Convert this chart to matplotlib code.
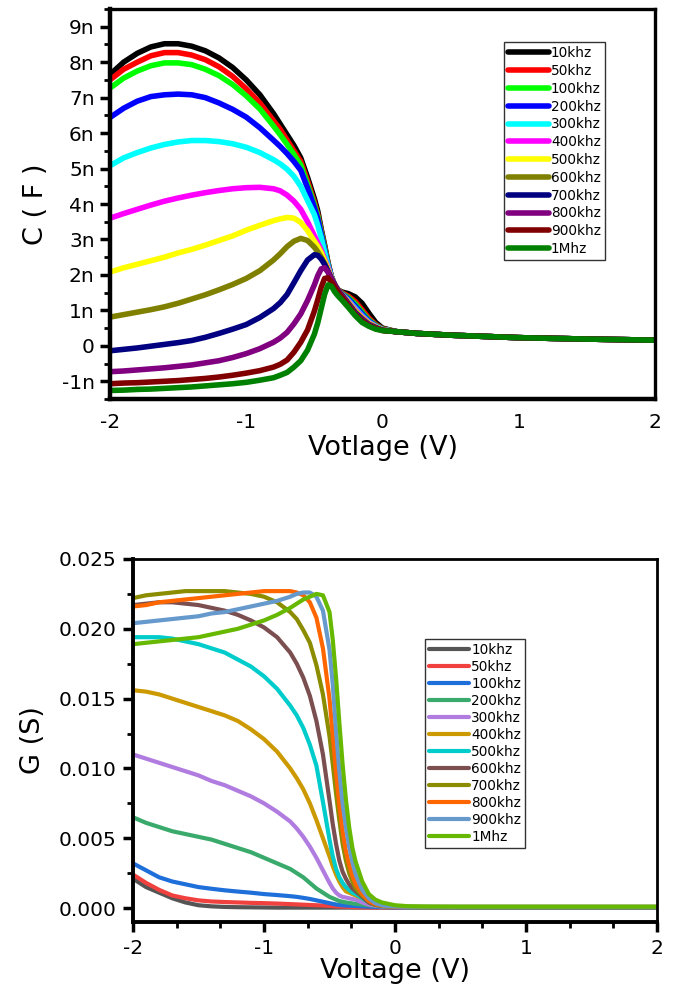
import numpy as np
import matplotlib
matplotlib.use("Agg")
import matplotlib.pyplot as plt
from matplotlib.ticker import FuncFormatter, FixedLocator

plt.rcParams['font.family'] = ['DejaVu Sans']
plt.rcParams['axes.unicode_minus'] = False

# ---------------- top chart: C-V (values in nF) ----------------
v_top = [-2.0, -1.9, -1.8, -1.7, -1.6, -1.5, -1.4, -1.3, -1.2, -1.1, -1.0,
         -0.9, -0.8, -0.75, -0.7, -0.65, -0.6, -0.55, -0.5,
         -0.475, -0.45, -0.425, -0.4, -0.375, -0.35, -0.325, -0.3,
         -0.25, -0.2, -0.15, -0.1, -0.05, 0.0,
         0.1, 0.25, 0.5, 1.0, 1.5, 2.0]
top_labels = ['10khz', '50khz', '100khz', '200khz', '300khz', '400khz', '500khz',
              '600khz', '700khz', '800khz', '900khz', '1Mhz']
top_colors = ['#000000', '#FF0000', '#00FF00', '#0000FF', '#00FFFF', '#FF00FF', '#FFFF00',
              '#808000', '#000080', '#800080', '#800000', '#008000']
c_tail = [0.40, 0.35, 0.30, 0.23, 0.19, 0.16]
c_10k  = [7.65, 8.00, 8.25, 8.43, 8.52, 8.52, 8.45, 8.32, 8.12, 7.85, 7.50,
          7.08, 6.55, 6.25, 5.95, 5.65, 5.30, 4.75, 4.15,
          3.80, 3.30, 2.85, 2.35, 1.95, 1.70, 1.58, 1.52,
          1.47, 1.38, 1.20, 0.92, 0.66, 0.50] + c_tail
c_50k  = [7.50, 7.80, 8.00, 8.18, 8.27, 8.27, 8.20, 8.07, 7.87, 7.60, 7.25,
          6.85, 6.35, 6.10, 5.80, 5.50, 5.20, 4.65, 4.05,
          3.70, 3.25, 2.80, 2.33, 1.95, 1.70, 1.57, 1.50,
          1.40, 1.25, 1.02, 0.78, 0.60, 0.48] + c_tail
c_100k = [7.27, 7.55, 7.75, 7.90, 7.98, 7.98, 7.93, 7.80, 7.62, 7.37, 7.05,
          6.68, 6.20, 5.95, 5.68, 5.40, 5.10, 4.55, 3.98,
          3.65, 3.20, 2.77, 2.30, 1.95, 1.70, 1.56, 1.48,
          1.36, 1.18, 0.95, 0.73, 0.58, 0.47] + c_tail
c_200k = [6.44, 6.70, 6.90, 7.03, 7.08, 7.10, 7.08, 7.00, 6.85, 6.67, 6.45,
          6.15, 5.80, 5.62, 5.42, 5.20, 4.95, 4.45, 3.90,
          3.58, 3.15, 2.72, 2.28, 1.95, 1.70, 1.55, 1.47,
          1.32, 1.12, 0.90, 0.70, 0.56, 0.46] + c_tail
c_300k = [5.08, 5.30, 5.45, 5.58, 5.68, 5.75, 5.79, 5.79, 5.76, 5.70, 5.60,
          5.45, 5.25, 5.13, 4.98, 4.78, 4.50, 4.10, 3.70,
          3.40, 3.05, 2.65, 2.25, 1.93, 1.72, 1.55, 1.46,
          1.28, 1.06, 0.85, 0.67, 0.55, 0.46] + c_tail
c_400k = [3.60, 3.73, 3.85, 3.97, 4.08, 4.17, 4.25, 4.32, 4.38, 4.43, 4.46,
          4.47, 4.43, 4.37, 4.25, 4.08, 3.85, 3.50, 3.10,
          2.90, 2.70, 2.45, 2.20, 1.92, 1.73, 1.55, 1.45,
          1.25, 1.02, 0.82, 0.65, 0.54, 0.45] + c_tail
c_500k = [2.08, 2.20, 2.30, 2.40, 2.50, 2.62, 2.72, 2.84, 2.97, 3.10, 3.26,
          3.40, 3.53, 3.58, 3.62, 3.60, 3.48, 3.25, 2.95,
          2.80, 2.62, 2.40, 2.15, 1.92, 1.73, 1.55, 1.45,
          1.22, 0.98, 0.79, 0.63, 0.53, 0.45] + c_tail
c_600k = [0.81, 0.88, 0.95, 1.02, 1.10, 1.20, 1.32, 1.44, 1.58, 1.73, 1.90,
          2.12, 2.42, 2.60, 2.80, 2.95, 3.03, 2.97, 2.78,
          2.65, 2.50, 2.32, 2.10, 1.90, 1.72, 1.55, 1.44,
          1.20, 0.95, 0.77, 0.61, 0.52, 0.44] + c_tail
c_700k = [-0.14, -0.10, -0.06, -0.01, 0.04, 0.09, 0.15, 0.24, 0.35, 0.47, 0.60,
          0.80, 1.05, 1.22, 1.45, 1.78, 2.12, 2.42, 2.57,
          2.55, 2.45, 2.30, 2.10, 1.90, 1.72, 1.55, 1.44,
          1.18, 0.93, 0.75, 0.60, 0.51, 0.44] + c_tail
c_800k = [-0.73, -0.71, -0.68, -0.65, -0.62, -0.58, -0.54, -0.48, -0.42, -0.33, -0.22,
          -0.08, 0.10, 0.22, 0.38, 0.62, 0.90, 1.28, 1.72,
          1.98, 2.17, 2.20, 2.08, 1.88, 1.70, 1.54, 1.42,
          1.16, 0.90, 0.73, 0.59, 0.50, 0.44] + c_tail
c_900k = [-1.07, -1.05, -1.04, -1.02, -1.00, -0.98, -0.95, -0.92, -0.88, -0.83, -0.77,
          -0.70, -0.60, -0.52, -0.40, -0.18, 0.10, 0.45, 0.98,
          1.30, 1.65, 1.90, 1.92, 1.80, 1.65, 1.50, 1.38,
          1.13, 0.88, 0.70, 0.57, 0.49, 0.43] + c_tail
c_1M   = [-1.26, -1.25, -1.23, -1.22, -1.20, -1.18, -1.16, -1.13, -1.10, -1.07, -1.03,
          -0.97, -0.90, -0.83, -0.75, -0.60, -0.42, -0.12, 0.33,
          0.65, 1.05, 1.45, 1.72, 1.68, 1.52, 1.40, 1.30,
          1.08, 0.85, 0.66, 0.55, 0.47, 0.43] + c_tail
top_series = [c_10k, c_50k, c_100k, c_200k, c_300k, c_400k, c_500k, c_600k,
              c_700k, c_800k, c_900k, c_1M]
top_yticks = [-1, 0, 1, 2, 3, 4, 5, 6, 7, 8, 9]

# ---------------- bottom chart: G-V (values in S) ----------------
v_bot = v_top
bot_labels = top_labels
bot_colors = ['#555555', '#F0413F', '#1F6FDB', '#3AAA6C', '#B07CE0', '#CC9900', '#00CCCC',
              '#7B4F4F', '#8C8C00', '#FF6600', '#6699CC', '#66B800']
g_10k  = [0.0021, 0.0015, 0.0011, 0.0007, 0.0004, 0.0002, 0.00012, 0.00008, 0.00006, 0.00005, 0.00004,
          0.00003, 0.00003, 0.00003, 0.00003, 0.00003, 0.00003, 0.00003, 0.00003,
          0.00003, 0.00003, 0.00003, 0.00003, 0.00003, 0.00003, 0.00003, 0.00003,
          0.00003, 0.00003, 0.00003, 0.00003, 0.00003, 0.00003,
          0.00003, 0.00003, 0.00003, 0.00003, 0.00003, 0.00003]
g_50k  = [0.0024, 0.0018, 0.0013, 0.0009, 0.0007, 0.00055, 0.00047, 0.00043, 0.0004, 0.00037, 0.00035,
          0.00032, 0.00028, 0.00026, 0.00024, 0.00022, 0.0002, 0.00018, 0.00015,
          0.00014, 0.00012, 0.00011, 0.0001, 0.00009, 0.00008, 0.00007, 0.00006,
          0.00005, 0.00004, 0.00004, 0.00004, 0.00004, 0.00004,
          0.00004, 0.00004, 0.00004, 0.00004, 0.00004, 0.00004]
g_100k = [0.0032, 0.0027, 0.0022, 0.0019, 0.0017, 0.0015, 0.00138, 0.00127, 0.00118, 0.0011, 0.0010,
          0.00093, 0.00085, 0.0008, 0.00073, 0.00065, 0.00055, 0.00045, 0.00035,
          0.0003, 0.00025, 0.00022, 0.0002, 0.00018, 0.00017, 0.00016, 0.00015,
          0.00012, 0.0001, 0.00008, 0.00007, 0.00006, 0.00005,
          0.00005, 0.00005, 0.00005, 0.00005, 0.00005, 0.00005]
g_200k = [0.0065, 0.0061, 0.0058, 0.0055, 0.0053, 0.0051, 0.0049, 0.0046, 0.0043, 0.0040, 0.0036,
          0.0032, 0.0028, 0.0025, 0.0022, 0.0018, 0.0014, 0.0011, 0.0008,
          0.0007, 0.0006, 0.0005, 0.00045, 0.0004, 0.00037, 0.00033, 0.0003,
          0.00025, 0.0002, 0.00015, 0.00012, 0.0001, 0.00008,
          0.00006, 0.00005, 0.00005, 0.00005, 0.00005, 0.00005]
g_300k = [0.0110, 0.0107, 0.0104, 0.0101, 0.0098, 0.0095, 0.0091, 0.0088, 0.0084, 0.0080, 0.0075,
          0.0069, 0.0062, 0.0057, 0.0051, 0.0044, 0.0036, 0.0027, 0.0018,
          0.0014, 0.0011, 0.0009, 0.0008, 0.00075, 0.0007, 0.00065, 0.0006,
          0.0004, 0.00025, 0.00016, 0.00012, 0.0001, 0.00008,
          0.00006, 0.00005, 0.00005, 0.00005, 0.00005, 0.00005]
g_400k = [0.0156, 0.0155, 0.0153, 0.0150, 0.0147, 0.0144, 0.0141, 0.0138, 0.0134, 0.0128, 0.0121,
          0.0112, 0.0100, 0.0093, 0.0085, 0.0075, 0.0063, 0.0050, 0.0037,
          0.0030, 0.0024, 0.0019, 0.0015, 0.0012, 0.0011, 0.0010, 0.0009,
          0.0007, 0.0004, 0.00022, 0.00015, 0.00012, 0.0001,
          0.00007, 0.00006, 0.00006, 0.00006, 0.00006, 0.00006]
g_500k = [0.0194, 0.0194, 0.0194, 0.0193, 0.0191, 0.0189, 0.0186, 0.0183, 0.0178, 0.0173, 0.0166,
          0.0157, 0.0145, 0.0138, 0.0129, 0.0117, 0.0102, 0.0076, 0.0049,
          0.0037, 0.0028, 0.0022, 0.0018, 0.0015, 0.0013, 0.0011, 0.0010,
          0.0007, 0.0004, 0.00022, 0.00015, 0.00012, 0.0001,
          0.00007, 0.00006, 0.00006, 0.00006, 0.00006, 0.00006]
g_600k = [0.0217, 0.0218, 0.0219, 0.0219, 0.0218, 0.0217, 0.0215, 0.0213, 0.0210, 0.0206, 0.0201,
          0.0194, 0.0183, 0.0175, 0.0165, 0.0152, 0.0134, 0.0110, 0.0077,
          0.0060, 0.0046, 0.0034, 0.0026, 0.0021, 0.0017, 0.0014, 0.0012,
          0.0008, 0.0004, 0.00022, 0.00015, 0.00012, 0.0001,
          0.00007, 0.00006, 0.00006, 0.00006, 0.00006, 0.00006]
g_700k = [0.0222, 0.0224, 0.0225, 0.0226, 0.0227, 0.0227, 0.0227, 0.0227, 0.0226, 0.0225, 0.0223,
          0.0219, 0.0212, 0.0207, 0.0199, 0.0190, 0.0174, 0.0153, 0.0123,
          0.0103, 0.0082, 0.0063, 0.0046, 0.0034, 0.0025, 0.0019, 0.0014,
          0.0009, 0.0005, 0.00025, 0.00016, 0.00012, 0.0001,
          0.00008, 0.00007, 0.00007, 0.00007, 0.00007, 0.00007]
g_800k = [0.0216, 0.0217, 0.0219, 0.0220, 0.0221, 0.0222, 0.0223, 0.0224, 0.0225, 0.0226, 0.0227,
          0.0227, 0.0227, 0.0226, 0.0224, 0.0219, 0.0208, 0.0186, 0.0150,
          0.0124, 0.0097, 0.0074, 0.0055, 0.0041, 0.0031, 0.0023, 0.0017,
          0.0010, 0.0005, 0.00028, 0.00018, 0.00013, 0.0001,
          0.00008, 0.00008, 0.00008, 0.00008, 0.00008, 0.00008]
g_900k = [0.0204, 0.0205, 0.0206, 0.0207, 0.0208, 0.0209, 0.0211, 0.0212, 0.0214, 0.0216, 0.0218,
          0.0220, 0.0223, 0.0225, 0.0226, 0.0226, 0.0223, 0.0213, 0.0185,
          0.0160, 0.0127, 0.0098, 0.0075, 0.0058, 0.0044, 0.0033, 0.0024,
          0.0013, 0.0007, 0.00035, 0.0002, 0.00014, 0.00011,
          0.00009, 0.00009, 0.00009, 0.00009, 0.00009, 0.00009]
g_1M   = [0.0189, 0.0190, 0.0191, 0.0192, 0.0193, 0.0194, 0.0196, 0.0198, 0.0200, 0.0203, 0.0206,
          0.0210, 0.0215, 0.0218, 0.0221, 0.0223, 0.0225, 0.0224, 0.0212,
          0.0192, 0.0165, 0.0133, 0.0103, 0.0078, 0.0058, 0.0043, 0.0033,
          0.0019, 0.0010, 0.0006, 0.0004, 0.0003, 0.0002,
          0.00013, 0.00011, 0.0001, 0.0001, 0.0001, 0.0001]
bot_series = [g_10k, g_50k, g_100k, g_200k, g_300k, g_400k, g_500k, g_600k,
              g_700k, g_800k, g_900k, g_1M]
bot_yticks = [0.000, 0.005, 0.010, 0.015, 0.020, 0.025]

fig = plt.figure(figsize=(6.83, 9.92), dpi=100)

# ---- top axes ----
ax1 = fig.add_axes([110/683, 1-399/992, (655-110)/683, (399-9)/992])
for lab, col, ys in zip(top_labels, top_colors, top_series):
    ax1.plot(v_top, np.array(ys) * 1e-9, color=col, lw=4.0, label=lab,
             solid_capstyle='round', solid_joinstyle='round')
ax1.set_xlim(-2, 2)
ax1.set_ylim(-1.5e-9, 9.5e-9)
ax1.yaxis.set_major_locator(FixedLocator([t * 1e-9 for t in top_yticks]))
ax1.yaxis.set_minor_locator(FixedLocator([(t + 0.5) * 1e-9 for t in [-2] + top_yticks]))
ax1.xaxis.set_major_locator(FixedLocator([-2, -1, 0, 1, 2]))
ax1.yaxis.set_major_formatter(FuncFormatter(lambda y, p: '0' if abs(y) < 1e-12 else '%dn' % round(y * 1e9)))
ax1.tick_params(axis='y', which='major', direction='out', length=7, width=2.5, labelsize=14.5, pad=4)
ax1.tick_params(axis='y', which='minor', direction='out', length=4, width=2)
ax1.tick_params(axis='x', which='both', length=0, labelsize=14.5, pad=10)
for s in ['left', 'bottom']:
    ax1.spines[s].set_linewidth(3.2)
for s in ['top', 'right']:
    ax1.spines[s].set_linewidth(2.4)
ax1.set_xlabel('Votlage (V)', fontsize=19.5, labelpad=2)
ax1.set_ylabel('C ( F )', fontsize=19.5, labelpad=9)
leg1 = ax1.legend(loc='upper left', bbox_to_anchor=(504/683, 1-42/992), bbox_transform=fig.transFigure,
                  fontsize=9.8, frameon=True, fancybox=False, handlelength=3.0, handletextpad=0.15,
                  labelspacing=0.28, borderpad=0.3, borderaxespad=0)
leg1.get_frame().set_edgecolor('black')
leg1.get_frame().set_linewidth(1.0)

# ---- bottom axes ----
ax2 = fig.add_axes([133/683, 1-922/992, (657-133)/683, (922-559)/992])
for lab, col, ys in zip(bot_labels, bot_colors, bot_series):
    ax2.plot(v_bot, ys, color=col, lw=3.0, label=lab,
             solid_capstyle='round', solid_joinstyle='round')
ax2.set_xlim(-2, 2)
ax2.set_ylim(-0.001, 0.025)
ax2.yaxis.set_major_locator(FixedLocator(bot_yticks))
ax2.yaxis.set_minor_locator(FixedLocator([t + 0.0025 for t in bot_yticks[:-1]]))
ax2.xaxis.set_major_locator(FixedLocator([-2, -1, 0, 1, 2]))
ax2.xaxis.set_minor_locator(FixedLocator([-2 + k / 3 for k in range(13) if k % 3]))
ax2.yaxis.set_major_formatter(FuncFormatter(lambda y, p: '%.3f' % y))
ax2.tick_params(axis='both', which='major', direction='out', length=7, width=2.5, labelsize=14.5, pad=5)
ax2.tick_params(axis='both', which='minor', direction='out', length=4, width=2)
for s in ['left', 'bottom']:
    ax2.spines[s].set_linewidth(2.8)
for s in ['top', 'right']:
    ax2.spines[s].set_linewidth(2.0)
ax2.set_xlabel('Voltage (V)', fontsize=19.5, labelpad=0)
ax2.set_ylabel('G (S)', fontsize=19.5, labelpad=9)
leg2 = ax2.legend(loc='upper left', bbox_to_anchor=(425/683, 1-639/992), bbox_transform=fig.transFigure,
                  fontsize=9.8, frameon=True, fancybox=False, handlelength=2.9, handletextpad=0.2,
                  labelspacing=0.22, borderpad=0.3, borderaxespad=0)
leg2.get_frame().set_edgecolor('black')
leg2.get_frame().set_linewidth(1.0)

fig.savefig('out.png', dpi=100)
